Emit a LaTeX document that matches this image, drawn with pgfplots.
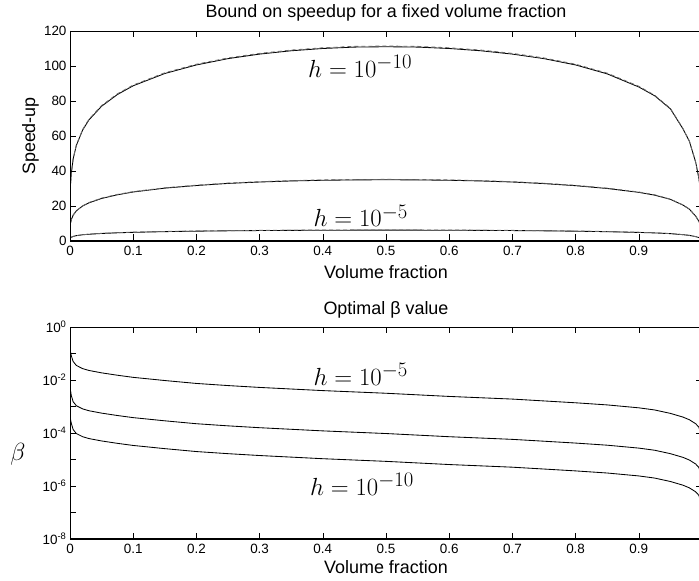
\documentclass[border=0pt]{standalone}
\usepackage{pgfplots}
\usepackage{pgfplotstable}
\usepackage{fontspec}
\setmainfont{Liberation Sans}
\pgfplotsset{compat=1.18}

\pgfplotstableread{
v      A      Ad     B     Bd    C     Cd
0.001  32.9   32.9   10.4  10.4  1.84  1.84
0.002  38.4   38.4   12.1  12.1  2.14  2.14
0.005  46.9   47.0   14.8  14.8  2.62  2.62
0.01   54.6   54.8   17.2  17.3  3.05  3.08
0.02   63.4   63.7   20.0  20.1  3.54  3.59
0.03   69.2   69.6   21.8  22.0  3.86  3.92
0.05   77.0   77.4   24.3  24.5  4.30  4.38
0.075  83.7   84.1   26.4  26.6  4.68  4.76
0.1    88.7   89.1   28.0  28.2  4.95  5.04
0.15   95.7   96.1   30.2  30.4  5.35  5.44
0.2    100.6  101.0  31.7  31.9  5.62  5.71
0.25   104.2  104.6  32.9  33.1  5.82  5.91
0.3    106.8  107.2  33.7  33.9  5.97  6.06
0.35   108.7  109.1  34.3  34.5  6.07  6.16
0.4    110.0  110.4  34.7  34.9  6.14  6.23
0.45   110.8  111.2  34.9  35.1  6.19  6.28
0.5    111.0  111.4  35.0  35.2  6.20  6.29
0.55   110.8  111.2  34.9  35.1  6.19  6.28
0.6    110.0  110.4  34.7  34.9  6.14  6.23
0.65   108.7  109.1  34.3  34.5  6.07  6.16
0.7    106.8  107.2  33.7  33.9  5.96  6.05
0.75   104.2  104.6  32.8  33.0  5.81  5.90
0.8    100.6  101.0  31.6  31.8  5.60  5.69
0.85   95.5   95.9   30.0  30.2  5.32  5.40
0.9    88.0   88.4   27.8  28.0  4.90  4.98
0.925  83.0   83.3   26.2  26.4  4.62  4.69
0.95   75.5   75.8   23.8  23.9  4.20  4.25
0.97   64.0   64.2   20.5  20.6  3.60  3.63
0.98   57.0   57.1   18.2  18.2  3.20  3.22
0.99   45.0   45.0   14.2  14.2  2.50  2.50
0.995  36.0   36.0   11.3  11.3  2.00  2.00
0.999  25.0   25.0   7.8   7.8   1.40  1.40
}\speedtab

% log10 of optimal beta
\pgfplotstableread{
v      T      M      L
0.001  -0.95  -2.42  -3.50
0.002  -1.08  -2.58  -3.63
0.005  -1.30  -2.82  -3.87
0.01   -1.45  -2.97  -4.02
0.02   -1.57  -3.09  -4.14
0.03   -1.64  -3.16  -4.21
0.05   -1.73  -3.25  -4.30
0.075  -1.82  -3.34  -4.39
0.1    -1.90  -3.42  -4.47
0.15   -2.02  -3.54  -4.59
0.2    -2.13  -3.65  -4.70
0.25   -2.21  -3.73  -4.78
0.3    -2.28  -3.80  -4.85
0.35   -2.34  -3.86  -4.91
0.4    -2.40  -3.92  -4.97
0.45   -2.45  -3.97  -5.02
0.5    -2.50  -4.02  -5.07
0.55   -2.56  -4.08  -5.13
0.6    -2.62  -4.14  -5.19
0.65   -2.67  -4.19  -5.24
0.7    -2.72  -4.24  -5.29
0.75   -2.79  -4.31  -5.36
0.8    -2.86  -4.38  -5.43
0.85   -2.94  -4.46  -5.51
0.9    -3.05  -4.57  -5.62
0.925  -3.13  -4.65  -5.70
0.95   -3.26  -4.78  -5.83
0.97   -3.40  -4.92  -5.97
0.98   -3.50  -5.02  -6.07
0.99   -3.65  -5.17  -6.22
0.995  -3.78  -5.30  -6.35
0.999  -4.10  -5.62  -6.67
}\betatab

\pgfplotsset{
  panel/.style={
    scale only axis,
    width=632bp,
    xmin=0, xmax=1,
    xtick={0,0.1,0.2,0.3,0.4,0.5,0.6,0.7,0.8,0.9},
    xticklabels={0,0.1,0.2,0.3,0.4,0.5,0.6,0.7,0.8,0.9},
    tick align=inside,
    major tick length=6.5bp,
    minor tick length=6.5bp,
    tick style={black, line width=0.6bp},
    axis line style={line width=0.6bp},
    ticklabel style={font=\fontsize{13.5}{15}\selectfont},
    x tick label style={yshift=-2bp},
    /pgf/number format/assume math mode=true,
    every axis title/.style={at={(axis description cs:0.5,1)}, anchor=base, yshift=13bp, font=\fontsize{18}{20}\selectfont},
    clip=true,
  },
  curve/.style={black, line width=0.85bp, no marks},
  dcurve/.style={gray!80!black, line width=0.85bp, no marks, dash pattern=on 4bp off 3bp},
}

\begin{document}
\begin{tikzpicture}
\path[use as bounding box] (0,0) rectangle (699bp,581bp);

\begin{axis}[panel,
  at={(70bp,340bp)}, anchor=south west,
  height=210bp,
  ymin=0, ymax=120,
  ytick={0,20,40,60,80,100,120},
  title={Bound on speedup for a fixed volume fraction},
  xlabel={Volume fraction},
  every axis x label/.style={at={(axis description cs:0.5,0)}, anchor=base, yshift=-38bp, font=\fontsize{18}{20}\selectfont},
  ylabel={Speed-up},
  every axis y label/.style={at={(axis description cs:0,0.5)}, xshift=-39.5bp, rotate=90, anchor=center, font=\fontsize{18}{20}\selectfont},
]
\addplot[curve] table[x=v, y=A] {\speedtab};
\addplot[dcurve] table[x=v, y=Ad] {\speedtab};
\addplot[curve] table[x=v, y=B] {\speedtab};
\addplot[dcurve] table[x=v, y=Bd] {\speedtab};
\addplot[curve] table[x=v, y=C] {\speedtab};
\addplot[dcurve] table[x=v, y=Cd] {\speedtab};
\node[anchor=base, inner sep=0pt] at (axis cs:0.459,93.7) {\fontsize{28}{30}\selectfont $h=10^{-10}$};
\node[anchor=base, inner sep=0pt] at (axis cs:0.46,8) {\fontsize{28}{30}\selectfont $h=10^{-5}$};
\draw[line width=1.6bp] (rel axis cs:0,1) -- (rel axis cs:0,0);
\draw[line width=2.4bp] (rel axis cs:0,0) -- (rel axis cs:1,0);
\end{axis}

\begin{axis}[panel,
  at={(70bp,42bp)}, anchor=south west,
  height=212bp,
  ymode=log,
  ymin=1e-8, ymax=1,
  ytick={1e-8,1e-6,1e-4,1e-2,1},
  yticklabels={10\textsuperscript{-8},10\textsuperscript{-6},10\textsuperscript{-4},10\textsuperscript{-2},10\textsuperscript{0}},
  extra y ticks={1e-7,1e-5,1e-3,1e-1},
  extra y tick labels={},
  extra y tick style={tick pos=left},
  title={Optimal β value},
  xlabel={Volume fraction},
  every axis x label/.style={at={(axis description cs:0.5,0)}, anchor=base, yshift=-34bp, font=\fontsize{18}{20}\selectfont},
  ylabel={$\beta$},
  every axis y label/.style={at={(axis description cs:0,0.5)}, anchor=center, xshift=-52bp, yshift=-21bp, font=\fontsize{28}{30}\selectfont},
]
\addplot[curve] table[x=v, y expr={10^(\thisrow{T})}] {\betatab};
\addplot[curve] table[x=v, y expr={10^(\thisrow{M})}] {\betatab};
\addplot[curve] table[x=v, y expr={10^(\thisrow{L})}] {\betatab};
\node[anchor=base, inner sep=0pt] at (axis cs:0.46,6.3e-3) {\fontsize{28}{30}\selectfont $h=10^{-5}$};
\node[anchor=base, inner sep=0pt] at (axis cs:0.462,4.47e-7) {\fontsize{28}{30}\selectfont $h=10^{-10}$};
\draw[line width=1.6bp] (rel axis cs:0,1) -- (rel axis cs:0,0);
\draw[line width=2.4bp] (rel axis cs:0,0) -- (rel axis cs:1,0);
\end{axis}
\end{tikzpicture}
\end{document}
